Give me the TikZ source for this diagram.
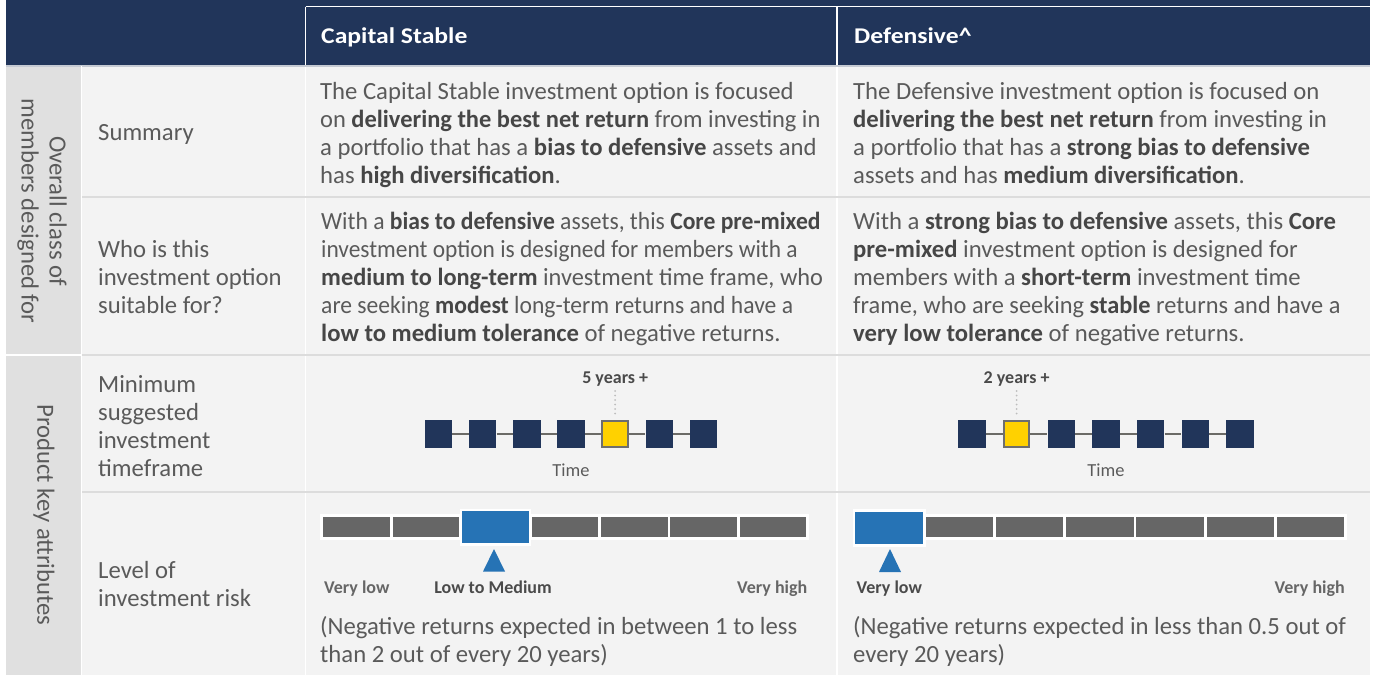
\documentclass[tikz,border=0pt]{standalone}
\usepackage{fontspec}
\usepackage{graphicx}
\setmainfont{Carlito}
\newfontfamily\hdrfont{Carlito}[FakeStretch=1.14]
\usetikzlibrary{calc}
\definecolor{navy}{HTML}{21355A}
\definecolor{bodybg}{HTML}{F3F3F3}
\definecolor{grpbg}{HTML}{E0E0E0}
\definecolor{sepline}{HTML}{DCDCDC}
\definecolor{hdrline}{HTML}{C5CAD3}
\definecolor{txt}{HTML}{5A5A5A}
\definecolor{txtb}{HTML}{464646}
\definecolor{ylw}{HTML}{FFD100}
\definecolor{ylwborder}{HTML}{6E6E6E}
\definecolor{rblue}{HTML}{2673B5}
\definecolor{segray}{HTML}{666666}
\definecolor{tlinec}{HTML}{6B6A66}
\definecolor{lblgray}{HTML}{666666}
\definecolor{lbldark}{HTML}{4A4A4A}
\definecolor{dotgray}{HTML}{BDBDBD}
\newcommand\hb[1]{{\bfseries\color{txtb}#1}}
\newcommand\firstline{\rule{0pt}{21pt}}
\newcommand\sx[2]{\scalebox{#1}[1]{#2}}
\begin{document}
\begin{tikzpicture}[x=1pt,y=-1pt,
  para/.style={anchor=north west, inner sep=0pt, align=left, text=txt,
    font=\fontsize{24.7}{28}\selectfont},
  hdr/.style={anchor=base west, inner sep=0pt, text=white,
    font=\hdrfont\bfseries\fontsize{22.5}{26}\selectfont},
  grplbl/.style={rotate=-90, align=center, inner sep=0pt, text=txt,
    font=\fontsize{24.7}{28}\selectfont},
  smlbl/.style={inner sep=0pt, font=\bfseries\fontsize{18}{20}\selectfont},
  yrlbl/.style={anchor=base, inner sep=3pt, text=lbldark, font=\bfseries\fontsize{18}{20}\selectfont},
  timelbl/.style={anchor=base, inner sep=0pt, text=txt, font=\fontsize{18.4}{20}\selectfont},
  sqn/.style={fill=navy, minimum size=27.5pt, inner sep=0pt},
  sqy/.style={fill=ylw, draw=ylwborder, line width=2pt, minimum size=25.5pt, inner sep=0pt},
  tl/.style={draw=tlinec, line width=2.5pt},
  dotline/.style={draw=dotgray, line width=2pt, line cap=round, dash pattern=on 0pt off 4.5pt},
  wline/.style={draw=white, line width=1.5pt},
  rline/.style={draw=sepline, line width=2pt}
]
\useasboundingbox (0,0) rectangle (1375,675);
% backgrounds
\fill[white] (0,0) rectangle (1375,675);
\fill[navy] (6,0) rectangle (1370,66);
\fill[bodybg] (6,66) rectangle (1370,675);
\fill[grpbg] (6,66) rectangle (81.5,675);
% header borders
\draw[wline] (305.5,6.5) -- (1370,6.5);
\draw[wline] (305.5,6.5) -- (305.5,675);
\draw[wline] (837,6.5) -- (837,675);
\draw[hdrline, line width=1.5pt] (6,66) -- (1370,66);
\draw[wline] (81.5,66) -- (81.5,675);
% row separators
\draw[rline] (82,197) -- (1370,197);
\draw[rline] (82,355) -- (1370,355);
\draw[draw=white, line width=2pt] (6,355) -- (81.5,355);
\draw[rline] (82,492) -- (1370,492);

% header texts
\node[hdr] (hcs) at (321,43) {Capital Stable};
\node[hdr] (hdf) at (854,43) {Defensive\textasciicircum};

% group labels
\node[grplbl] (grp1) at (42,211) {Overall class of\\members designed for};
\node[grplbl] (grp2) at (44,515) {Product key attributes};

% row labels
\node[para] (lsum) at (98,119) {\firstline Summary};
\node[para] (lwho) at (98,236) {\firstline Who is this\\investment option\\suitable for?};
\node[para] (lmin) at (98,371) {\firstline Minimum\\suggested\\investment\\timeframe};
\node[para] (lrisk) at (98,557) {\firstline Level of\\investment risk};

% summary
\node[para] (sumcs) at (320,78) {\firstline The Capital Stable investment option is focused\\\sx{0.99}{on \hb{delivering the best net return} from investing in}\\a portfolio that has a \hb{bias to defensive} assets and\\has \hb{high diversification}.};
\node[para] (sumdf) at (853,78) {\firstline The Defensive investment option is focused on\\\hb{delivering the best net return} from investing in\\a portfolio that has a \hb{strong bias to defensive}\\assets and has \hb{medium diversification}.};

% who
\node[para] (whocs) at (321,208) {\firstline\sx{0.956}{With a \hb{bias to defensive} assets, this \hb{Core pre-mixed}}\\\sx{0.948}{investment option is designed for members with a}\\\sx{0.986}{\hb{medium to long-term} investment time frame, who}\\\sx{0.955}{are seeking \hb{modest} long-term returns and have a}\\\hb{low to medium tolerance} of negative returns.};
\node[para] (whodf) at (853,208) {\firstline With a \hb{strong bias to defensive} assets, this \hb{Core}\\\hb{pre-mixed} investment option is designed for\\members with a \hb{short-term} investment time\\\sx{0.986}{frame, who are seeking \hb{stable} returns and have a}\\\hb{very low tolerance} of negative returns.};

% timeline capital stable
\foreach \k/\s in {1/sqn,2/sqn,3/sqn,4/sqn,5/sqy,6/sqn,7/sqn}
  \node[\s] (cs\k) at ({571+(\k-4)*44.2},434) {};
\foreach \a/\b in {1/2,2/3,3/4,4/5,5/6,6/7}
  \draw[tl] (cs\a) -- (cs\b);
\node[yrlbl] (yrcs) at (615.2,383) {5 years +};
\draw[dotline, shorten <=2pt, shorten >=5pt] (yrcs.south) -- (cs5.north);
\node[timelbl] (tcs) at (571,476) {Time};

% timeline defensive
\foreach \k/\s in {1/sqn,2/sqy,3/sqn,4/sqn,5/sqn,6/sqn,7/sqn}
  \node[\s] (df\k) at ({1106+(\k-4)*44.7},434) {};
\foreach \a/\b in {1/2,2/3,3/4,4/5,5/6,6/7}
  \draw[tl] (df\a) -- (df\b);
\node[yrlbl] (yrdf) at (1016.6,383) {2 years +};
\draw[dotline, shorten <=2pt, shorten >=5pt] (yrdf.south) -- (df2.north);
\node[timelbl] (tdf) at (1106,476) {Time};

% risk bar capital stable
\fill[white] (320.4,514) rectangle (809.3,540);
\foreach \k in {0,...,6}
  \fill[segray] ({323.4+\k*69.4},517) rectangle ++(66.5,20);
\fill[white] (459.7,508.7) rectangle (531.2,545.5);
\fill[rblue] (462.2,511.2) rectangle (528.7,543);
\fill[rblue] (494,549) -- (505,571.5) -- (483,571.5) -- cycle;
\node[smlbl, anchor=base west, text=lblgray] (vlcs) at (324,593) {Very low};
\node[smlbl, anchor=base, text=lbldark] (lmcs) at (493,593) {Low to Medium};
\node[smlbl, anchor=base east, text=lblgray] (vhcs) at (807.5,593) {Very high};
\node[para] (negcs) at (320,613) {\firstline (Negative returns expected in between 1 to less\\than 2 out of every 20 years)};

% risk bar defensive
\fill[white] (852.5,514) rectangle (1347,540);
\foreach \k in {0,...,6}
  \fill[segray] ({855.5+\k*70.2},517) rectangle ++(67.5,20);
\fill[white] (852.5,509) rectangle (925.8,546.5);
\fill[rblue] (855,511.5) rectangle (923.3,544);
\fill[rblue] (890,549) -- (901,572) -- (879,572) -- cycle;
\node[smlbl, anchor=base west, text=lbldark] (vldf) at (856.5,593) {Very low};
\node[smlbl, anchor=base east, text=lblgray] (vhdf) at (1345,593) {Very high};
\node[para] (negdf) at (853,613) {\firstline (Negative returns expected in less than 0.5 out of\\every 20 years)};
\end{tikzpicture}
\end{document}
